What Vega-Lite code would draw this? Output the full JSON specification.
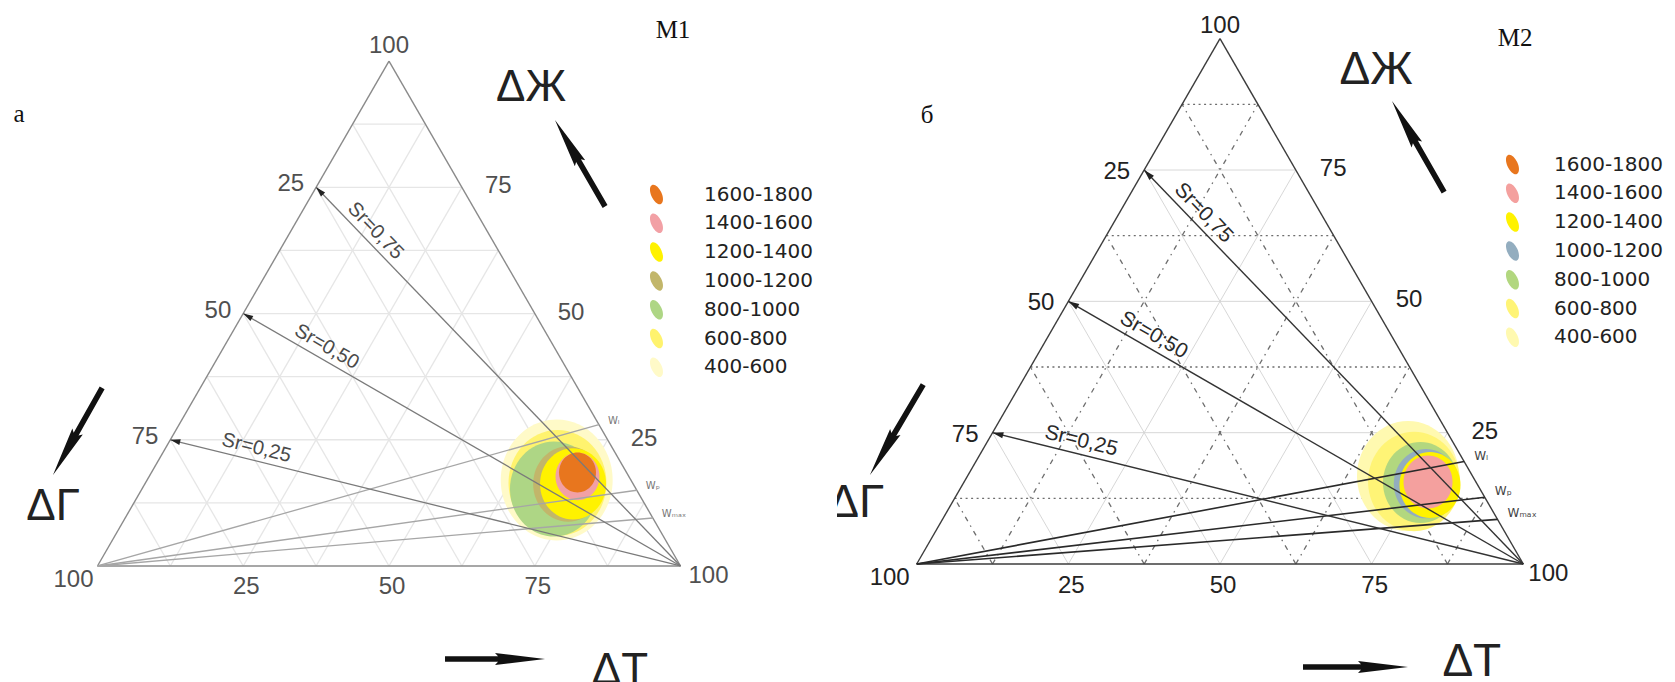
{
  "$schema": "https://vega.github.io/schema/vega-lite/v6.json",
  "padding": 0,
  "autosize": {"type": "pad"},
  "bounds": "flush",
  "spacing": 0,
  "background": "white",
  "config": {"view": {"stroke": null}, "font": "Liberation Sans"},
  "resolve": {"scale": {"x": "independent", "y": "independent", "color": "independent", "size": "independent"}, "legend": {"color": "independent"}},
  "datasets": {
    "grid": [
      {"dir": "h", "v": 12.5, "kind": "minor", "t1": 0, "zh1": 12.5, "t2": 87.5, "zh2": 12.5},
      {"dir": "h", "v": 25, "kind": "major", "t1": 0, "zh1": 25, "t2": 75, "zh2": 25},
      {"dir": "h", "v": 37.5, "kind": "minor", "t1": 0, "zh1": 37.5, "t2": 62.5, "zh2": 37.5},
      {"dir": "h", "v": 50, "kind": "major", "t1": 0, "zh1": 50, "t2": 50, "zh2": 50},
      {"dir": "h", "v": 62.5, "kind": "minor", "t1": 0, "zh1": 62.5, "t2": 37.5, "zh2": 62.5},
      {"dir": "h", "v": 75, "kind": "major", "t1": 0, "zh1": 75, "t2": 25, "zh2": 75},
      {"dir": "h", "v": 87.5, "kind": "minor", "t1": 0, "zh1": 87.5, "t2": 12.5, "zh2": 87.5},
      {"dir": "t", "v": 12.5, "kind": "minor", "t1": 12.5, "zh1": 0, "t2": 12.5, "zh2": 87.5},
      {"dir": "t", "v": 25, "kind": "major", "t1": 25, "zh1": 0, "t2": 25, "zh2": 75},
      {"dir": "t", "v": 37.5, "kind": "minor", "t1": 37.5, "zh1": 0, "t2": 37.5, "zh2": 62.5},
      {"dir": "t", "v": 50, "kind": "major", "t1": 50, "zh1": 0, "t2": 50, "zh2": 50},
      {"dir": "t", "v": 62.5, "kind": "minor", "t1": 62.5, "zh1": 0, "t2": 62.5, "zh2": 37.5},
      {"dir": "t", "v": 75, "kind": "major", "t1": 75, "zh1": 0, "t2": 75, "zh2": 25},
      {"dir": "t", "v": 87.5, "kind": "minor", "t1": 87.5, "zh1": 0, "t2": 87.5, "zh2": 12.5},
      {"dir": "g", "v": 12.5, "kind": "minor", "t1": 87.5, "zh1": 0, "t2": 0, "zh2": 87.5},
      {"dir": "g", "v": 25, "kind": "major", "t1": 75, "zh1": 0, "t2": 0, "zh2": 75},
      {"dir": "g", "v": 37.5, "kind": "minor", "t1": 62.5, "zh1": 0, "t2": 0, "zh2": 62.5},
      {"dir": "g", "v": 50, "kind": "major", "t1": 50, "zh1": 0, "t2": 0, "zh2": 50},
      {"dir": "g", "v": 62.5, "kind": "minor", "t1": 37.5, "zh1": 0, "t2": 0, "zh2": 37.5},
      {"dir": "g", "v": 75, "kind": "major", "t1": 25, "zh1": 0, "t2": 0, "zh2": 25},
      {"dir": "g", "v": 87.5, "kind": "minor", "t1": 12.5, "zh1": 0, "t2": 0, "zh2": 12.5}
    ],
    "frame": [
      {"t1": 0, "zh1": 0, "t2": 100, "zh2": 0},
      {"t1": 100, "zh1": 0, "t2": 0, "zh2": 100},
      {"t1": 0, "zh1": 100, "t2": 0, "zh2": 0}
    ],
    "sr": [
      {"sr": 0.75, "t1": 100, "zh1": 0, "t2": 0, "zh2": 75},
      {"sr": 0.5, "t1": 100, "zh1": 0, "t2": 0, "zh2": 50},
      {"sr": 0.25, "t1": 100, "zh1": 0, "t2": 0, "zh2": 25}
    ],
    "srlab": [
      {"p": "a", "label": "Sr=0,75", "sr": 0.75, "t": 13.8, "zh": 64.6},
      {"p": "a", "label": "Sr=0,50", "sr": 0.5, "t": 17.6, "zh": 41.2},
      {"p": "a", "label": "Sr=0,25", "sr": 0.25, "t": 16.3, "zh": 20.9},
      {"p": "b", "label": "Sr=0,75", "sr": 0.75, "t": 13.2, "zh": 65.1},
      {"p": "b", "label": "Sr=0;50", "sr": 0.5, "t": 17.3, "zh": 41.4},
      {"p": "b", "label": "Sr=0,25", "sr": 0.25, "t": 16.1, "zh": 21.0}
    ],
    "w": [
      {"p": "a", "label": "Wₗ", "t1": 0, "zh1": 0, "t2": 72, "zh2": 28},
      {"p": "a", "label": "Wₚ", "t1": 0, "zh1": 0, "t2": 85, "zh2": 15},
      {"p": "a", "label": "Wₘₐₓ", "t1": 0, "zh1": 0, "t2": 90.5, "zh2": 9.5},
      {"p": "b", "label": "Wₗ", "t1": 0, "zh1": 0, "t2": 80.5, "zh2": 19.5},
      {"p": "b", "label": "Wₚ", "t1": 0, "zh1": 0, "t2": 87.3, "zh2": 12.7},
      {"p": "b", "label": "Wₘₐₓ", "t1": 0, "zh1": 0, "t2": 91.5, "zh2": 8.5}
    ],
    "blobs": [
      {"p": "a", "level": "400-600", "t": 70.25, "zh": 17.03, "r": 9.6},
      {"p": "a", "level": "600-800", "t": 70.68, "zh": 16.44, "r": 8.4},
      {"p": "a", "level": "800-1000", "t": 70.67, "zh": 15.25, "r": 7.55},
      {"p": "a", "level": "1000-1200", "t": 72.6, "zh": 16.25, "r": 6.0},
      {"p": "a", "level": "1200-1400", "t": 73.44, "zh": 16.25, "r": 5.66},
      {"p": "a", "level": "1400-1600", "t": 73.47, "zh": 17.72, "r": 3.77},
      {"p": "a", "level": "1600-1800", "t": 73.07, "zh": 18.52, "r": 3.17},
      {"p": "b", "level": "400-600", "t": 72.62, "zh": 16.75, "r": 8.41},
      {"p": "b", "level": "600-800", "t": 74.13, "zh": 15.71, "r": 7.58},
      {"p": "b", "level": "800-1000", "t": 75.29, "zh": 15.52, "r": 6.18},
      {"p": "b", "level": "1000-1200", "t": 76.3, "zh": 15.3, "r": 5.3},
      {"p": "b", "level": "1200-1400", "t": 77.1, "zh": 15.04, "r": 5.03},
      {"p": "b", "level": "1400-1600", "t": 76.49, "zh": 15.61, "r": 4.04}
    ],
    "ticks": [
      {"side": "top", "label": "100", "t": 0, "zh": 100},
      {"side": "left", "label": "25", "t": 0, "zh": 75},
      {"side": "left", "label": "50", "t": 0, "zh": 50},
      {"side": "left", "label": "75", "t": 0, "zh": 25},
      {"side": "right", "label": "75", "t": 25, "zh": 75},
      {"side": "right", "label": "50", "t": 50, "zh": 50},
      {"side": "right", "label": "25", "t": 75, "zh": 25},
      {"side": "bottom", "label": "25", "t": 25, "zh": 0},
      {"side": "bottom", "label": "50", "t": 50, "zh": 0},
      {"side": "bottom", "label": "75", "t": 75, "zh": 0},
      {"side": "bl", "label": "100", "t": 0, "zh": 0},
      {"side": "br", "label": "100", "t": 100, "zh": 0}
    ],
    "annot": [
      {"p": "a", "label": "M1", "kind": "serif", "t": 45.63, "zh": 106.16},
      {"p": "a", "label": "а", "kind": "serif", "t": -58.22, "zh": 89.52},
      {"p": "a", "label": "ΔЖ", "kind": "big", "t": 27.03, "zh": 94.67},
      {"p": "a", "label": "ΔГ", "kind": "big", "t": -13.48, "zh": 11.69},
      {"p": "a", "label": "ΔТ", "kind": "big", "t": 100.02, "zh": -20.8},
      {"p": "b", "label": "M2", "kind": "serif", "t": 48.57, "zh": 100.13},
      {"p": "b", "label": "б", "kind": "serif", "t": -41.04, "zh": 85.47},
      {"p": "b", "label": "ΔЖ", "kind": "big", "t": 28.7, "zh": 94.04},
      {"p": "b", "label": "ΔГ", "kind": "big", "t": -15.81, "zh": 11.61},
      {"p": "b", "label": "ΔТ", "kind": "big", "t": 100.84, "zh": -18.66}
    ],
    "arrows": [
      {"p": "a", "axis": "ΔЖ", "t1": 50.77, "zh1": 71.89, "t2": 34.3, "zh2": 88.34},
      {"p": "a", "axis": "ΔГ", "t1": -16.83, "zh1": 34.86, "t2": -16.64, "zh2": 18.02},
      {"p": "a", "axis": "ΔТ", "t1": 68.47, "zh1": -18.42, "t2": 85.97, "zh2": -18.42},
      {"p": "b", "axis": "ΔЖ", "t1": 51.53, "zh1": 70.81, "t2": 34.29, "zh2": 88.14},
      {"p": "b", "axis": "ΔГ", "t1": -16.0, "zh1": 34.7, "t2": -16.18, "zh2": 16.94},
      {"p": "b", "axis": "ΔТ", "t1": 73.8, "zh1": -19.61, "t2": 90.8, "zh2": -19.61}
    ]
  },
  "hconcat": [
    {
      "width": 837,
      "height": 682,
      "encoding": {
        "x": {"field": "x", "type": "quantitative", "scale": {"domain": [-16.72, 126.84], "nice": false, "zero": false}, "axis": null},
        "y": {"field": "y", "type": "quantitative", "scale": {"domain": [-19.9, 97.08], "nice": false, "zero": false}, "axis": null}
      },
      "layer": [
        {
          "data": {"name": "grid"},
          "transform": [
            {"calculate": "datum.t1 + datum.zh1/2", "as": "x"}, {"calculate": "datum.zh1*0.8660254", "as": "y"},
            {"calculate": "datum.t2 + datum.zh2/2", "as": "x2"}, {"calculate": "datum.zh2*0.8660254", "as": "y2"}
          ],
          "mark": {"type": "rule", "stroke": "#e6e6e6", "strokeWidth": 1.3},
          "encoding": {"x2": {"field": "x2"}, "y2": {"field": "y2"}}
        },
        {
          "data": {"name": "blobs"},
          "transform": [{"filter": "datum.p == 'a'"}, {"calculate": "datum.t + datum.zh/2", "as": "x"}, {"calculate": "datum.zh*0.8660254", "as": "y"}],
          "mark": {"type": "point", "filled": true, "opacity": 1, "strokeWidth": 0, "shape": "M -1 0 C -1 -0.5965 -0.5523 -1.08 0 -1.08 C 0.5523 -1.08 1 -0.5965 1 0 C 1 0.5965 0.5523 1.08 0 1.08 C -0.5523 1.08 -1 0.5965 -1 0 Z"},
          "encoding": {
            "size": {"field": "r", "type": "quantitative", "scale": {"type": "pow", "exponent": 2, "domain": [0, 10], "range": [0, 13596]}, "legend": null},
            "color": {
              "field": "level", "type": "nominal",
              "scale": {"domain": ["1600-1800", "1400-1600", "1200-1400", "1000-1200", "800-1000", "600-800", "400-600"], "range": ["#E8761E", "#F2A0A5", "#FFF200", "#C2B66A", "#AED685", "#FFF36E", "#FFFAC8"]},
              "legend": {"orient": "none", "legendX": 646, "legendY": 184, "title": null, "padding": 0, "symbolType": "M -0.453 0.211 C -0.687 -0.289 -0.673 -0.789 -0.423 -0.906 C -0.173 -1.023 0.22 -0.711 0.453 -0.211 C 0.687 0.289 0.673 0.789 0.423 0.906 C 0.173 1.023 -0.22 0.711 -0.453 0.211 Z", "symbolSize": 440, "symbolStrokeWidth": 0, "symbolOpacity": 1, "labelFont": "DejaVu Sans", "labelFontSize": 20, "labelColor": "#222", "labelOffset": 37, "rowPadding": 7.8, "labelLimit": 300}
            }
          }
        },
        {
          "data": {"name": "frame"},
          "transform": [
            {"calculate": "datum.t1 + datum.zh1/2", "as": "x"}, {"calculate": "datum.zh1*0.8660254", "as": "y"},
            {"calculate": "datum.t2 + datum.zh2/2", "as": "x2"}, {"calculate": "datum.zh2*0.8660254", "as": "y2"}
          ],
          "mark": {"type": "rule", "stroke": "#8a8a8a", "strokeWidth": 1.4},
          "encoding": {"x2": {"field": "x2"}, "y2": {"field": "y2"}}
        },
        {
          "data": {"name": "w"},
          "transform": [
            {"filter": "datum.p == 'a'"},
            {"calculate": "datum.t1 + datum.zh1/2", "as": "x"}, {"calculate": "datum.zh1*0.8660254", "as": "y"},
            {"calculate": "datum.t2 + datum.zh2/2", "as": "x2"}, {"calculate": "datum.zh2*0.8660254", "as": "y2"}
          ],
          "mark": {"type": "rule", "stroke": "#a6a6a6", "strokeWidth": 1.3},
          "encoding": {"x2": {"field": "x2"}, "y2": {"field": "y2"}}
        },
        {
          "data": {"name": "sr"},
          "transform": [
            {"calculate": "datum.t1 + datum.zh1/2", "as": "x"}, {"calculate": "datum.zh1*0.8660254", "as": "y"},
            {"calculate": "datum.t2 + datum.zh2/2", "as": "x2"}, {"calculate": "datum.zh2*0.8660254", "as": "y2"}
          ],
          "mark": {"type": "rule", "stroke": "#7a7a7a", "strokeWidth": 1.3},
          "encoding": {"x2": {"field": "x2"}, "y2": {"field": "y2"}}
        },
        {
          "data": {"name": "sr"},
          "transform": [
            {"calculate": "datum.t2 + datum.zh2/2", "as": "x"}, {"calculate": "datum.zh2*0.8660254", "as": "y"},
            {"calculate": "atan2(datum.x - (datum.t1 + datum.zh1/2), datum.y - datum.zh1*0.8660254)*180/PI", "as": "ang"}
          ],
          "mark": {"type": "point", "filled": true, "opacity": 1, "color": "#222", "size": 110, "shape": "M 0 0 L 0.55 1.9 L -0.55 1.9 Z"},
          "encoding": {"angle": {"field": "ang", "type": "quantitative", "scale": null}}
        },
        {
          "data": {"name": "srlab"},
          "transform": [
            {"filter": "datum.p == 'a'"},
            {"calculate": "datum.t + datum.zh/2", "as": "x"}, {"calculate": "datum.zh*0.8660254", "as": "y"},
            {"calculate": "atan2(datum.sr*86.60254, 100 - datum.sr*50)*180/PI", "as": "ang"}
          ],
          "mark": {"type": "text", "fontSize": 20, "color": "#4a4a4a", "align": "center", "baseline": "middle", "dy": -13},
          "encoding": {"text": {"field": "label"}, "angle": {"field": "ang", "type": "quantitative", "scale": null}}
        },
        {
          "data": {"name": "w"},
          "transform": [{"filter": "datum.p == 'a'"}, {"calculate": "datum.t2 + datum.zh2/2", "as": "x"}, {"calculate": "datum.zh2*0.8660254", "as": "y"}],
          "mark": {"type": "text", "font": "DejaVu Sans", "fontSize": 10, "color": "#777", "align": "left", "baseline": "middle", "dx": 9, "dy": -4},
          "encoding": {"text": {"field": "label"}}
        },
        {
          "data": {"name": "ticks"},
          "transform": [{"filter": "datum.side == 'top'"}, {"calculate": "datum.t + datum.zh/2", "as": "x"}, {"calculate": "datum.zh*0.8660254", "as": "y"}],
          "mark": {"type": "text", "fontSize": 24, "color": "#505050", "align": "center", "baseline": "alphabetic", "dy": -8},
          "encoding": {"text": {"field": "label"}}
        },
        {
          "data": {"name": "ticks"},
          "transform": [{"filter": "datum.side == 'left'"}, {"calculate": "datum.t + datum.zh/2", "as": "x"}, {"calculate": "datum.zh*0.8660254", "as": "y"}],
          "mark": {"type": "text", "fontSize": 24, "color": "#505050", "align": "right", "baseline": "middle", "dx": -12, "dy": -3},
          "encoding": {"text": {"field": "label"}}
        },
        {
          "data": {"name": "ticks"},
          "transform": [{"filter": "datum.side == 'right'"}, {"calculate": "datum.t + datum.zh/2", "as": "x"}, {"calculate": "datum.zh*0.8660254", "as": "y"}],
          "mark": {"type": "text", "fontSize": 24, "color": "#505050", "align": "left", "baseline": "middle", "dx": 23, "dy": -1},
          "encoding": {"text": {"field": "label"}}
        },
        {
          "data": {"name": "ticks"},
          "transform": [{"filter": "datum.side == 'bottom'"}, {"calculate": "datum.t + datum.zh/2", "as": "x"}, {"calculate": "datum.zh*0.8660254", "as": "y"}],
          "mark": {"type": "text", "fontSize": 24, "color": "#505050", "align": "center", "baseline": "middle", "dx": 3, "dy": 21},
          "encoding": {"text": {"field": "label"}}
        },
        {
          "data": {"name": "ticks"},
          "transform": [{"filter": "datum.side == 'bl'"}, {"calculate": "datum.t + datum.zh/2", "as": "x"}, {"calculate": "datum.zh*0.8660254", "as": "y"}],
          "mark": {"type": "text", "fontSize": 24, "color": "#505050", "align": "right", "baseline": "middle", "dx": -4, "dy": 14},
          "encoding": {"text": {"field": "label"}}
        },
        {
          "data": {"name": "ticks"},
          "transform": [{"filter": "datum.side == 'br'"}, {"calculate": "datum.t + datum.zh/2", "as": "x"}, {"calculate": "datum.zh*0.8660254", "as": "y"}],
          "mark": {"type": "text", "fontSize": 24, "color": "#505050", "align": "left", "baseline": "middle", "dx": 8, "dy": 10},
          "encoding": {"text": {"field": "label"}}
        },
        {
          "data": {"name": "annot"},
          "transform": [{"filter": "datum.p == 'a' && datum.kind == 'big'"}, {"calculate": "datum.t + datum.zh/2", "as": "x"}, {"calculate": "datum.zh*0.8660254", "as": "y"}],
          "mark": {"type": "text", "fontSize": 44, "color": "#222", "align": "center", "baseline": "middle", "clip": true},
          "encoding": {"text": {"field": "label"}}
        },
        {
          "data": {"name": "annot"},
          "transform": [{"filter": "datum.p == 'a' && datum.kind == 'serif'"}, {"calculate": "datum.t + datum.zh/2", "as": "x"}, {"calculate": "datum.zh*0.8660254", "as": "y"}],
          "mark": {"type": "text", "font": "Liberation Serif", "fontSize": 25, "color": "#111", "align": "center", "baseline": "middle"},
          "encoding": {"text": {"field": "label"}}
        },
        {
          "data": {"name": "arrows"},
          "transform": [
            {"filter": "datum.p == 'a'"},
            {"calculate": "datum.t2 + datum.zh2/2", "as": "x"}, {"calculate": "datum.zh2*0.8660254", "as": "y"},
            {"calculate": "atan2(datum.x - (datum.t1 + datum.zh1/2), datum.y - datum.zh1*0.8660254)*180/PI", "as": "ang"}
          ],
          "mark": {"type": "point", "filled": true, "opacity": 1, "color": "#111", "size": 400, "shape": "M 0 0 L 0.6 5 L 0.28 4.7 L 0.28 10 L -0.28 10 L -0.28 4.7 L -0.6 5 Z"},
          "encoding": {"angle": {"field": "ang", "type": "quantitative", "scale": null}}
        }
      ]
    },
    {
      "width": 838,
      "height": 682,
      "encoding": {
        "x": {"field": "x", "type": "quantitative", "scale": {"domain": [-13.14, 125.01], "nice": false, "zero": false}, "axis": null},
        "y": {"field": "y", "type": "quantitative", "scale": {"domain": [-19.45, 92.98], "nice": false, "zero": false}, "axis": null}
      },
      "layer": [
        {
          "data": {"name": "grid"},
          "transform": [
            {"filter": "datum.kind == 'major'"},
            {"calculate": "datum.t1 + datum.zh1/2", "as": "x"}, {"calculate": "datum.zh1*0.8660254", "as": "y"},
            {"calculate": "datum.t2 + datum.zh2/2", "as": "x2"}, {"calculate": "datum.zh2*0.8660254", "as": "y2"}
          ],
          "mark": {"type": "rule", "stroke": "#d2d2d2", "strokeWidth": 0.9},
          "encoding": {"x2": {"field": "x2"}, "y2": {"field": "y2"}}
        },
        {
          "data": {"name": "grid"},
          "transform": [
            {"filter": "datum.kind == 'minor' && datum.dir == 'h'"},
            {"calculate": "datum.t1 + datum.zh1/2", "as": "x"}, {"calculate": "datum.zh1*0.8660254", "as": "y"},
            {"calculate": "datum.t2 + datum.zh2/2", "as": "x2"}, {"calculate": "datum.zh2*0.8660254", "as": "y2"}
          ],
          "mark": {"type": "rule", "stroke": "#6e6e6e", "strokeWidth": 1.3, "strokeDash": [2, 3.5]},
          "encoding": {"x2": {"field": "x2"}, "y2": {"field": "y2"}}
        },
        {
          "data": {"name": "grid"},
          "transform": [
            {"filter": "datum.kind == 'minor' && datum.dir != 'h'"},
            {"calculate": "datum.t1 + datum.zh1/2", "as": "x"}, {"calculate": "datum.zh1*0.8660254", "as": "y"},
            {"calculate": "datum.t2 + datum.zh2/2", "as": "x2"}, {"calculate": "datum.zh2*0.8660254", "as": "y2"}
          ],
          "mark": {"type": "rule", "stroke": "#6e6e6e", "strokeWidth": 1.3, "strokeDash": [5, 5, 1.5, 5]},
          "encoding": {"x2": {"field": "x2"}, "y2": {"field": "y2"}}
        },
        {
          "data": {"name": "blobs"},
          "transform": [{"filter": "datum.p == 'b'"}, {"calculate": "datum.t + datum.zh/2", "as": "x"}, {"calculate": "datum.zh*0.8660254", "as": "y"}],
          "mark": {"type": "point", "filled": true, "opacity": 1, "strokeWidth": 0, "shape": "M -1 0 C -1 -0.5965 -0.5523 -1.08 0 -1.08 C 0.5523 -1.08 1 -0.5965 1 0 C 1 0.5965 0.5523 1.08 0 1.08 C -0.5523 1.08 -1 0.5965 -1 0 Z"},
          "encoding": {
            "size": {"field": "r", "type": "quantitative", "scale": {"type": "pow", "exponent": 2, "domain": [0, 10], "range": [0, 14718]}, "legend": null},
            "color": {
              "field": "level", "type": "nominal",
              "scale": {"domain": ["1600-1800", "1400-1600", "1200-1400", "1000-1200", "800-1000", "600-800", "400-600"], "range": ["#E8761E", "#F4A09E", "#FFF200", "#93ADBF", "#B2D77F", "#FFF476", "#FFF9B0"]},
              "legend": {"orient": "none", "legendX": 665, "legendY": 154, "title": null, "padding": 0, "symbolType": "M -0.453 0.211 C -0.687 -0.289 -0.673 -0.789 -0.423 -0.906 C -0.173 -1.023 0.22 -0.711 0.453 -0.211 C 0.687 0.289 0.673 0.789 0.423 0.906 C 0.173 1.023 -0.22 0.711 -0.453 0.211 Z", "symbolSize": 440, "symbolStrokeWidth": 0, "symbolOpacity": 1, "labelFont": "DejaVu Sans", "labelFontSize": 20, "labelColor": "#222", "labelOffset": 31, "rowPadding": 7.8, "labelLimit": 300}
            }
          }
        },
        {
          "data": {"name": "frame"},
          "transform": [
            {"calculate": "datum.t1 + datum.zh1/2", "as": "x"}, {"calculate": "datum.zh1*0.8660254", "as": "y"},
            {"calculate": "datum.t2 + datum.zh2/2", "as": "x2"}, {"calculate": "datum.zh2*0.8660254", "as": "y2"}
          ],
          "mark": {"type": "rule", "stroke": "#3c3c3c", "strokeWidth": 1.4},
          "encoding": {"x2": {"field": "x2"}, "y2": {"field": "y2"}}
        },
        {
          "data": {"name": "w"},
          "transform": [
            {"filter": "datum.p == 'b'"},
            {"calculate": "datum.t1 + datum.zh1/2", "as": "x"}, {"calculate": "datum.zh1*0.8660254", "as": "y"},
            {"calculate": "datum.t2 + datum.zh2/2", "as": "x2"}, {"calculate": "datum.zh2*0.8660254", "as": "y2"}
          ],
          "mark": {"type": "rule", "stroke": "#2a2a2a", "strokeWidth": 1.6},
          "encoding": {"x2": {"field": "x2"}, "y2": {"field": "y2"}}
        },
        {
          "data": {"name": "sr"},
          "transform": [
            {"calculate": "datum.t1 + datum.zh1/2", "as": "x"}, {"calculate": "datum.zh1*0.8660254", "as": "y"},
            {"calculate": "datum.t2 + datum.zh2/2", "as": "x2"}, {"calculate": "datum.zh2*0.8660254", "as": "y2"}
          ],
          "mark": {"type": "rule", "stroke": "#333", "strokeWidth": 1.4},
          "encoding": {"x2": {"field": "x2"}, "y2": {"field": "y2"}}
        },
        {
          "data": {"name": "sr"},
          "transform": [
            {"calculate": "datum.t2 + datum.zh2/2", "as": "x"}, {"calculate": "datum.zh2*0.8660254", "as": "y"},
            {"calculate": "atan2(datum.x - (datum.t1 + datum.zh1/2), datum.y - datum.zh1*0.8660254)*180/PI", "as": "ang"}
          ],
          "mark": {"type": "point", "filled": true, "opacity": 1, "color": "#222", "size": 130, "shape": "M 0 0 L 0.55 1.9 L -0.55 1.9 Z"},
          "encoding": {"angle": {"field": "ang", "type": "quantitative", "scale": null}}
        },
        {
          "data": {"name": "srlab"},
          "transform": [
            {"filter": "datum.p == 'b'"},
            {"calculate": "datum.t + datum.zh/2", "as": "x"}, {"calculate": "datum.zh*0.8660254", "as": "y"},
            {"calculate": "atan2(datum.sr*86.60254, 100 - datum.sr*50)*180/PI", "as": "ang"}
          ],
          "mark": {"type": "text", "fontSize": 21, "color": "#2a2a2a", "align": "center", "baseline": "middle", "dy": -13},
          "encoding": {"text": {"field": "label"}, "angle": {"field": "ang", "type": "quantitative", "scale": null}}
        },
        {
          "data": {"name": "w"},
          "transform": [{"filter": "datum.p == 'b'"}, {"calculate": "datum.t2 + datum.zh2/2", "as": "x"}, {"calculate": "datum.zh2*0.8660254", "as": "y"}],
          "mark": {"type": "text", "font": "DejaVu Sans", "fontSize": 12, "color": "#444", "align": "left", "baseline": "middle", "dx": 10, "dy": -6},
          "encoding": {"text": {"field": "label"}}
        },
        {
          "data": {"name": "ticks"},
          "transform": [{"filter": "datum.side == 'top'"}, {"calculate": "datum.t + datum.zh/2", "as": "x"}, {"calculate": "datum.zh*0.8660254", "as": "y"}],
          "mark": {"type": "text", "fontSize": 24, "color": "#222", "align": "center", "baseline": "alphabetic", "dy": -6},
          "encoding": {"text": {"field": "label"}}
        },
        {
          "data": {"name": "ticks"},
          "transform": [{"filter": "datum.side == 'left'"}, {"calculate": "datum.t + datum.zh/2", "as": "x"}, {"calculate": "datum.zh*0.8660254", "as": "y"}],
          "mark": {"type": "text", "fontSize": 24, "color": "#222", "align": "right", "baseline": "middle", "dx": -14, "dy": 2},
          "encoding": {"text": {"field": "label"}}
        },
        {
          "data": {"name": "ticks"},
          "transform": [{"filter": "datum.side == 'right'"}, {"calculate": "datum.t + datum.zh/2", "as": "x"}, {"calculate": "datum.zh*0.8660254", "as": "y"}],
          "mark": {"type": "text", "fontSize": 24, "color": "#222", "align": "left", "baseline": "middle", "dx": 24, "dy": -1},
          "encoding": {"text": {"field": "label"}}
        },
        {
          "data": {"name": "ticks"},
          "transform": [{"filter": "datum.side == 'bottom'"}, {"calculate": "datum.t + datum.zh/2", "as": "x"}, {"calculate": "datum.zh*0.8660254", "as": "y"}],
          "mark": {"type": "text", "fontSize": 24, "color": "#222", "align": "center", "baseline": "middle", "dx": 3, "dy": 22},
          "encoding": {"text": {"field": "label"}}
        },
        {
          "data": {"name": "ticks"},
          "transform": [{"filter": "datum.side == 'bl'"}, {"calculate": "datum.t + datum.zh/2", "as": "x"}, {"calculate": "datum.zh*0.8660254", "as": "y"}],
          "mark": {"type": "text", "fontSize": 24, "color": "#222", "align": "right", "baseline": "middle", "dx": -7, "dy": 14},
          "encoding": {"text": {"field": "label"}}
        },
        {
          "data": {"name": "ticks"},
          "transform": [{"filter": "datum.side == 'br'"}, {"calculate": "datum.t + datum.zh/2", "as": "x"}, {"calculate": "datum.zh*0.8660254", "as": "y"}],
          "mark": {"type": "text", "fontSize": 24, "color": "#222", "align": "left", "baseline": "middle", "dx": 5, "dy": 10},
          "encoding": {"text": {"field": "label"}}
        },
        {
          "data": {"name": "annot"},
          "transform": [{"filter": "datum.p == 'b' && datum.kind == 'big'"}, {"calculate": "datum.t + datum.zh/2", "as": "x"}, {"calculate": "datum.zh*0.8660254", "as": "y"}],
          "mark": {"type": "text", "fontSize": 46, "color": "#222", "align": "center", "baseline": "middle", "clip": true},
          "encoding": {"text": {"field": "label"}}
        },
        {
          "data": {"name": "annot"},
          "transform": [{"filter": "datum.p == 'b' && datum.kind == 'serif'"}, {"calculate": "datum.t + datum.zh/2", "as": "x"}, {"calculate": "datum.zh*0.8660254", "as": "y"}],
          "mark": {"type": "text", "font": "Liberation Serif", "fontSize": 25, "color": "#111", "align": "center", "baseline": "middle"},
          "encoding": {"text": {"field": "label"}}
        },
        {
          "data": {"name": "arrows"},
          "transform": [
            {"filter": "datum.p == 'b'"},
            {"calculate": "datum.t2 + datum.zh2/2", "as": "x"}, {"calculate": "datum.zh2*0.8660254", "as": "y"},
            {"calculate": "atan2(datum.x - (datum.t1 + datum.zh1/2), datum.y - datum.zh1*0.8660254)*180/PI", "as": "ang"}
          ],
          "mark": {"type": "point", "filled": true, "opacity": 1, "color": "#111", "size": 400, "shape": "M 0 0 L 0.6 5 L 0.28 4.7 L 0.28 10.5 L -0.28 10.5 L -0.28 4.7 L -0.6 5 Z"},
          "encoding": {"angle": {"field": "ang", "type": "quantitative", "scale": null}}
        }
      ]
    }
  ]
}
